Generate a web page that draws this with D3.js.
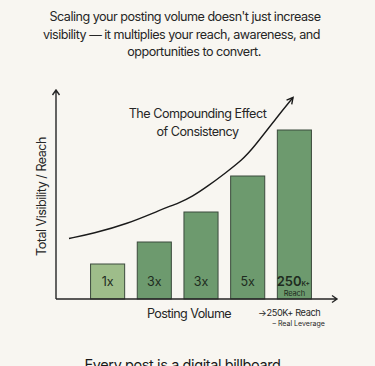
<!DOCTYPE html>
<html><head><meta charset="utf-8">
<script src="https://cdn.jsdelivr.net/npm/d3@7"></script>
<style>
html,body{margin:0;padding:0;background:#f8f6f1;}
svg{display:block;}
text{font-family:Inter,"Noto Sans",sans-serif;}
</style></head>
<body><svg id="c" width="375" height="366"></svg>
<script>
const categories = ["1x","3x","3x","5x","250K+"];
const reach = [35, 57, 87, 123, 169];
const barColors = ["#9ebd8a","#6d9a6e","#6d9a6e","#6d9a6e","#6d9a6e"];
const trendIndex = [-0.827, -0.313, 0.416, 1.122, 1.551, 1.808, 2.151, 2.515, 2.879, 3.115, 3.629, 3.971];
const trendValue = [60.5, 65.5, 75, 89, 96.5, 102.3, 113, 125.7, 139, 150.7, 182, 201.5];
const headerLines = ["Scaling your posting volume doesn't just increase","visibility \u2014 it multiplies your reach, awareness, and","opportunities to convert."];

const svg = d3.select("#c");
const ink="#262626";

// header
svg.selectAll("text.hdr").data(headerLines).join("text").attr("class","hdr")
  .attr("x",(d,i)=>[185,181.5,194][i]).attr("y",(d,i)=>21+i*17.5)
  .attr("text-anchor","middle").attr("font-size",12.6).attr("letter-spacing",-0.5).attr("fill",ink).text(d=>d);

const x0=56, y0=299;
const x = d3.scaleBand().domain(d3.range(categories.length)).range([84.5,317.5]).paddingInner(0.27).paddingOuter(0.13);
const y = d3.scaleLinear().domain([0,200]).range([y0,y0-200]);
const bw = x.bandwidth(), step=x.step();
const cx = i => x(0)+bw/2 + i*step;

// bars
svg.selectAll("rect.bar").data(reach).join("rect").attr("class","bar")
  .attr("x",(d,i)=>x(i)).attr("y",d=>y(d)).attr("width",bw).attr("height",d=>y0-y(d))
  .attr("fill",(d,i)=>barColors[i]).attr("stroke","#3b4a3c").attr("stroke-width",1);

// labels
categories.forEach((c,i)=>{
  if(c==="250K+"){
    const t=svg.append("text").attr("x",cx(i)-1).attr("y",286).attr("text-anchor","middle").attr("fill","#1e2b20");
    t.append("tspan").attr("font-size",13).attr("font-weight",600).text("250");
    t.append("tspan").attr("font-size",6.5).attr("font-weight",600).text("K+");
    svg.append("text").attr("x",cx(i)).attr("y",295.5).attr("text-anchor","middle").attr("font-size",7.5).attr("letter-spacing",-0.2).attr("fill","#1e2b20").text("Reach");
  } else {
    svg.append("text").attr("x",cx(i)).attr("y",286).attr("text-anchor","middle").attr("font-size",12.5).attr("fill","#1e2b20").text(c);
  }
});

// axes
const axis=svg.append("g").attr("stroke",ink).attr("fill","none").attr("stroke-width",1.4);
axis.append("path").attr("d",`M${x0},${y0}V90M${x0-3.5},95L${x0},90L${x0+3.5},95`);
axis.append("path").attr("d",`M${x0},${y0}H337M332,${y0-3.5}L337,${y0}L332,${y0+3.5}`);

// trend curve
const pts = trendIndex.map((t,i)=>[cx(0)+t*step, y(trendValue[i])]);
const line=d3.line().curve(d3.curveBasis);
svg.append("path").attr("d",line(pts)).attr("fill","none").attr("stroke","#1a1a1a").attr("stroke-width",1.4);
const [ex,ey]=pts[pts.length-1], [px,py]=pts[pts.length-2];
const ang=Math.atan2(ey-py,ex-px);
const ah=7, spread=0.5;
svg.append("path").attr("d",`M${ex+ah*Math.cos(ang+Math.PI-spread)},${ey+ah*Math.sin(ang+Math.PI-spread)}L${ex},${ey}L${ex+ah*Math.cos(ang+Math.PI+spread)},${ey+ah*Math.sin(ang+Math.PI+spread)}`)
  .attr("fill","none").attr("stroke","#1a1a1a").attr("stroke-width",1.4);

// curve title
svg.append("text").attr("x",197.5).attr("y",118).attr("text-anchor","middle").attr("font-size",12.6).attr("letter-spacing",-0.5).attr("fill",ink).text("The Compounding Effect");
svg.append("text").attr("x",197.5).attr("y",136).attr("text-anchor","middle").attr("font-size",12.6).attr("letter-spacing",-0.5).attr("fill",ink).text("of Consistency");

// axis labels
svg.append("text").attr("transform","translate(46,196.5) rotate(-90)").attr("text-anchor","middle").attr("font-size",12.6).attr("letter-spacing",-0.5).attr("fill",ink).text("Total Visibility / Reach");
svg.append("text").attr("x",189).attr("y",318).attr("text-anchor","middle").attr("font-size",12.6).attr("letter-spacing",-0.6).attr("fill",ink).text("Posting Volume");
svg.append("text").attr("x",258).attr("y",315.5).attr("font-size",9.2).attr("letter-spacing",-0.35).attr("fill",ink).text("\u2192250K+ Reach");
svg.append("text").attr("x",272.5).attr("y",325.5).attr("font-size",7).attr("fill",ink).text("\u2013 Real Leverage");

// footer
svg.append("text").attr("x",182.5).attr("y",369.5).attr("text-anchor","middle").attr("font-size",14.5).attr("letter-spacing",-0.4).attr("fill","#1a1a1a").text("Every post is a digital billboard");
</script></body></html>
